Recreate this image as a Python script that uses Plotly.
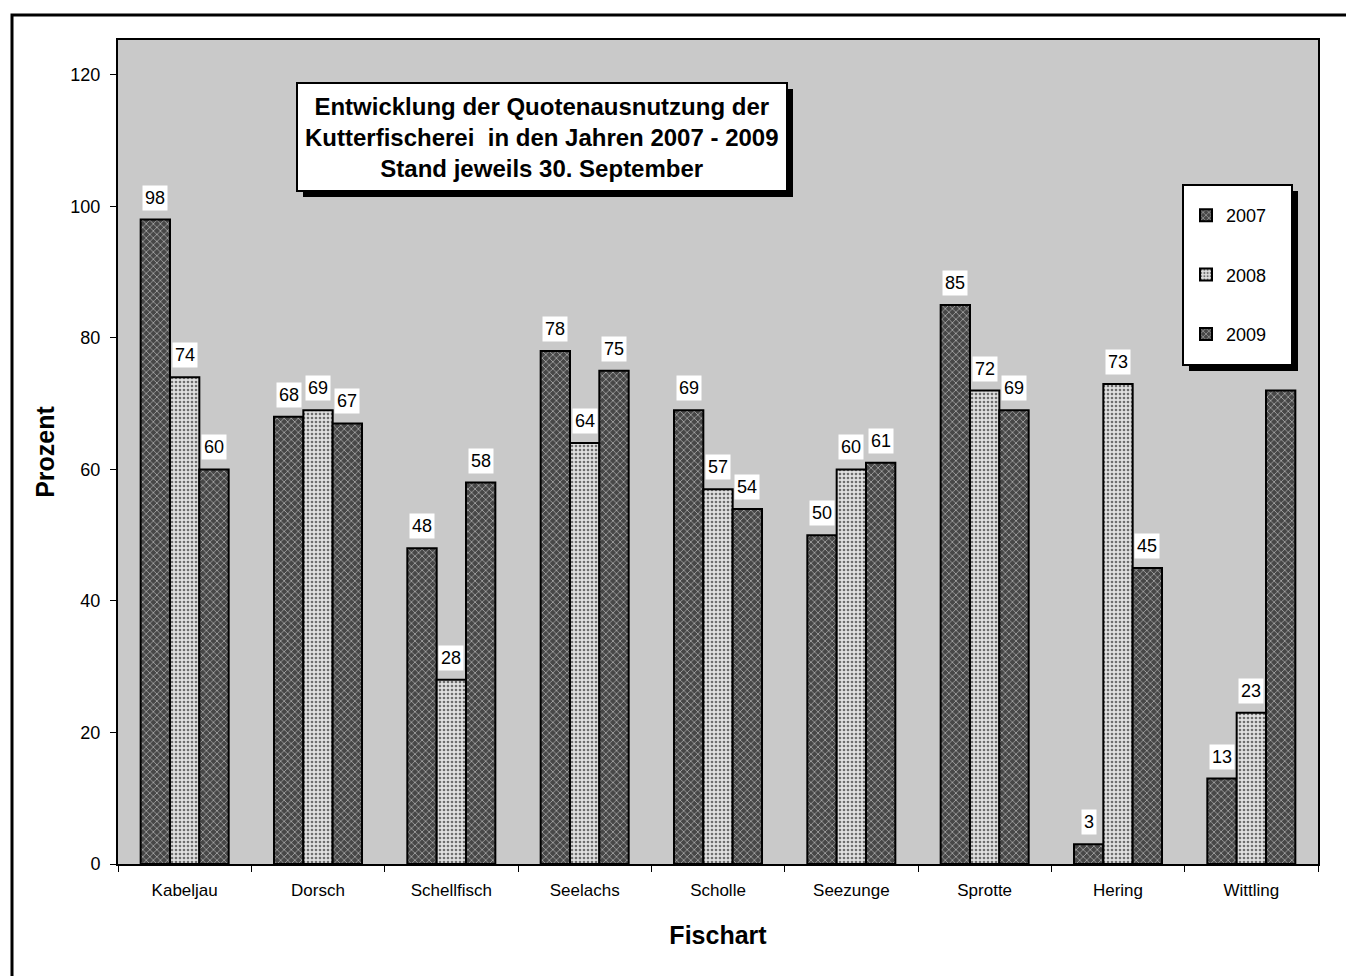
import plotly.graph_objects as go

# ---- data ----
categories = ["Kabeljau", "Dorsch", "Schellfisch", "Seelachs", "Scholle",
              "Seezunge", "Sprotte", "Hering", "Wittling"]
years = ["2007", "2008", "2009"]
values_2007 = [98, 68, 48, 78, 69, 50, 85, 3, 13]
values_2008 = [74, 69, 28, 64, 57, 60, 72, 73, 23]
values_2009 = [60, 67, 58, 75, 54, 61, 69, 45, 72]
y_ticks = [0, 20, 40, 60, 80, 100, 120]
title_text = ("Entwicklung der Quotenausnutzung der<br>"
              "Kutterfischerei  in den Jahren 2007 - 2009<br>"
              "Stand jeweils 30. September")
# label hidden behind the legend in the original
hidden_labels = {("Wittling", "2009")}

series = [values_2007, values_2008, values_2009]
styles = [
    dict(bg="#474747", fg="#bdbdbd", shape="x", size=5, solidity=0.25),
    dict(bg="#e0e0e0", fg="#6e6e6e", shape=".", size=4, solidity=0.35),
    dict(bg="#474747", fg="#bdbdbd", shape="x", size=5, solidity=0.25),
]

FONT = "Liberation Sans, Arial, sans-serif"
OFF = 8  # page body margin
W, H = 1346, 968
L, T = 118 - OFF, 40 - OFF
R = W - (1318 - OFF)
B = H - (864 - OFF)
pw, ph = W - L - R, H - T - B


def px(x):  # page pixel -> paper
    return (x - OFF - L) / pw


def py(y):
    return (H - B - (y - OFF)) / ph


fig = go.Figure()
for i, (yr, vals, st) in enumerate(zip(years, series, styles)):
    fig.add_trace(go.Bar(
        x=categories, y=vals, name=yr, legendgroup=yr,
        marker=dict(color=st["bg"],
                    line=dict(color="black", width=2),
                    pattern=dict(shape=st["shape"], fgcolor=st["fg"],
                                 bgcolor=st["bg"], size=st["size"],
                                 solidity=st["solidity"], fillmode="replace")),
    ))

bargap = 0.34
bw = (1 - bargap) / 3
annotations = []
for i, (yr, vals) in enumerate(zip(years, series)):
    for j, (c, v) in enumerate(zip(categories, vals)):
        if (c, yr) in hidden_labels:
            continue
        annotations.append(dict(
            x=j + (i - 1) * bw, y=v, xref="x", yref="y",
            text=str(v), showarrow=False, yshift=22,
            xanchor="center", yanchor="middle",
            bgcolor="white", borderpad=2,
            font=dict(family=FONT, size=18, color="black")))

# title box text
annotations.append(dict(
    x=px(542), y=py(137), xref="paper", yref="paper",
    xanchor="center", yanchor="middle",
    text="<b>" + title_text + "</b>", showarrow=False, align="center",
    font=dict(family=FONT, size=24, color="black")))

shapes = [
    # outer border
    dict(type="rect", xref="paper", yref="paper",
         x0=px(12), x1=px(1351), y0=py(995), y1=py(15),
         line=dict(color="black", width=3), layer="below"),
    # title box shadow + box
    dict(type="rect", xref="paper", yref="paper",
         x0=px(303), x1=px(793), y0=py(197), y1=py(89),
         fillcolor="black", line=dict(width=0), layer="above"),
    dict(type="rect", xref="paper", yref="paper",
         x0=px(297), x1=px(787), y0=py(191), y1=py(83),
         fillcolor="white", line=dict(color="black", width=2), layer="above"),
    # legend box shadow + box
    dict(type="rect", xref="paper", yref="paper",
         x0=px(1189), x1=px(1298), y0=py(371), y1=py(191),
         fillcolor="black", line=dict(width=0), layer="above"),
    dict(type="rect", xref="paper", yref="paper",
         x0=px(1183), x1=px(1292), y0=py(365), y1=py(185),
         fillcolor="white", line=dict(color="black", width=2), layer="above"),
]

fig.update_layout(
    width=W, height=H,
    margin=dict(l=L, r=R, t=T, b=B, pad=0),
    paper_bgcolor="white", plot_bgcolor="#c9c9c9",
    barmode="group", bargap=bargap, bargroupgap=0,
    font=dict(family=FONT, size=18, color="black"),
    showlegend=True,
    legend=dict(x=px(1186), y=py(197), xanchor="left", yanchor="top",
                bgcolor="rgba(0,0,0,0)", borderwidth=0,
                tracegroupgap=33, font=dict(family=FONT, size=18),
                traceorder="grouped"),
    annotations=annotations, shapes=shapes,
    xaxis=dict(
        type="category", tickson="boundaries", ticks="outside", ticklen=6,
        tickcolor="black", tickwidth=1, showline=True, linecolor="black",
        linewidth=2, mirror=True, showgrid=False, ticklabelstandoff=10,
        tickfont=dict(family=FONT, size=17),
        title=dict(text="<b>Fischart</b>", standoff=27,
                   font=dict(family=FONT, size=25))),
    yaxis=dict(
        range=[0, 125.3], tickvals=y_ticks, ticks="outside", ticklen=6,
        tickcolor="black", showline=True, linecolor="black", linewidth=2,
        mirror=True, showgrid=False, zeroline=False, ticklabelstandoff=6,
        tickfont=dict(family=FONT, size=18),
        title=dict(text="<b>Prozent</b>", standoff=9,
                   font=dict(family=FONT, size=25))),
)

fig.write_html("out.html")
